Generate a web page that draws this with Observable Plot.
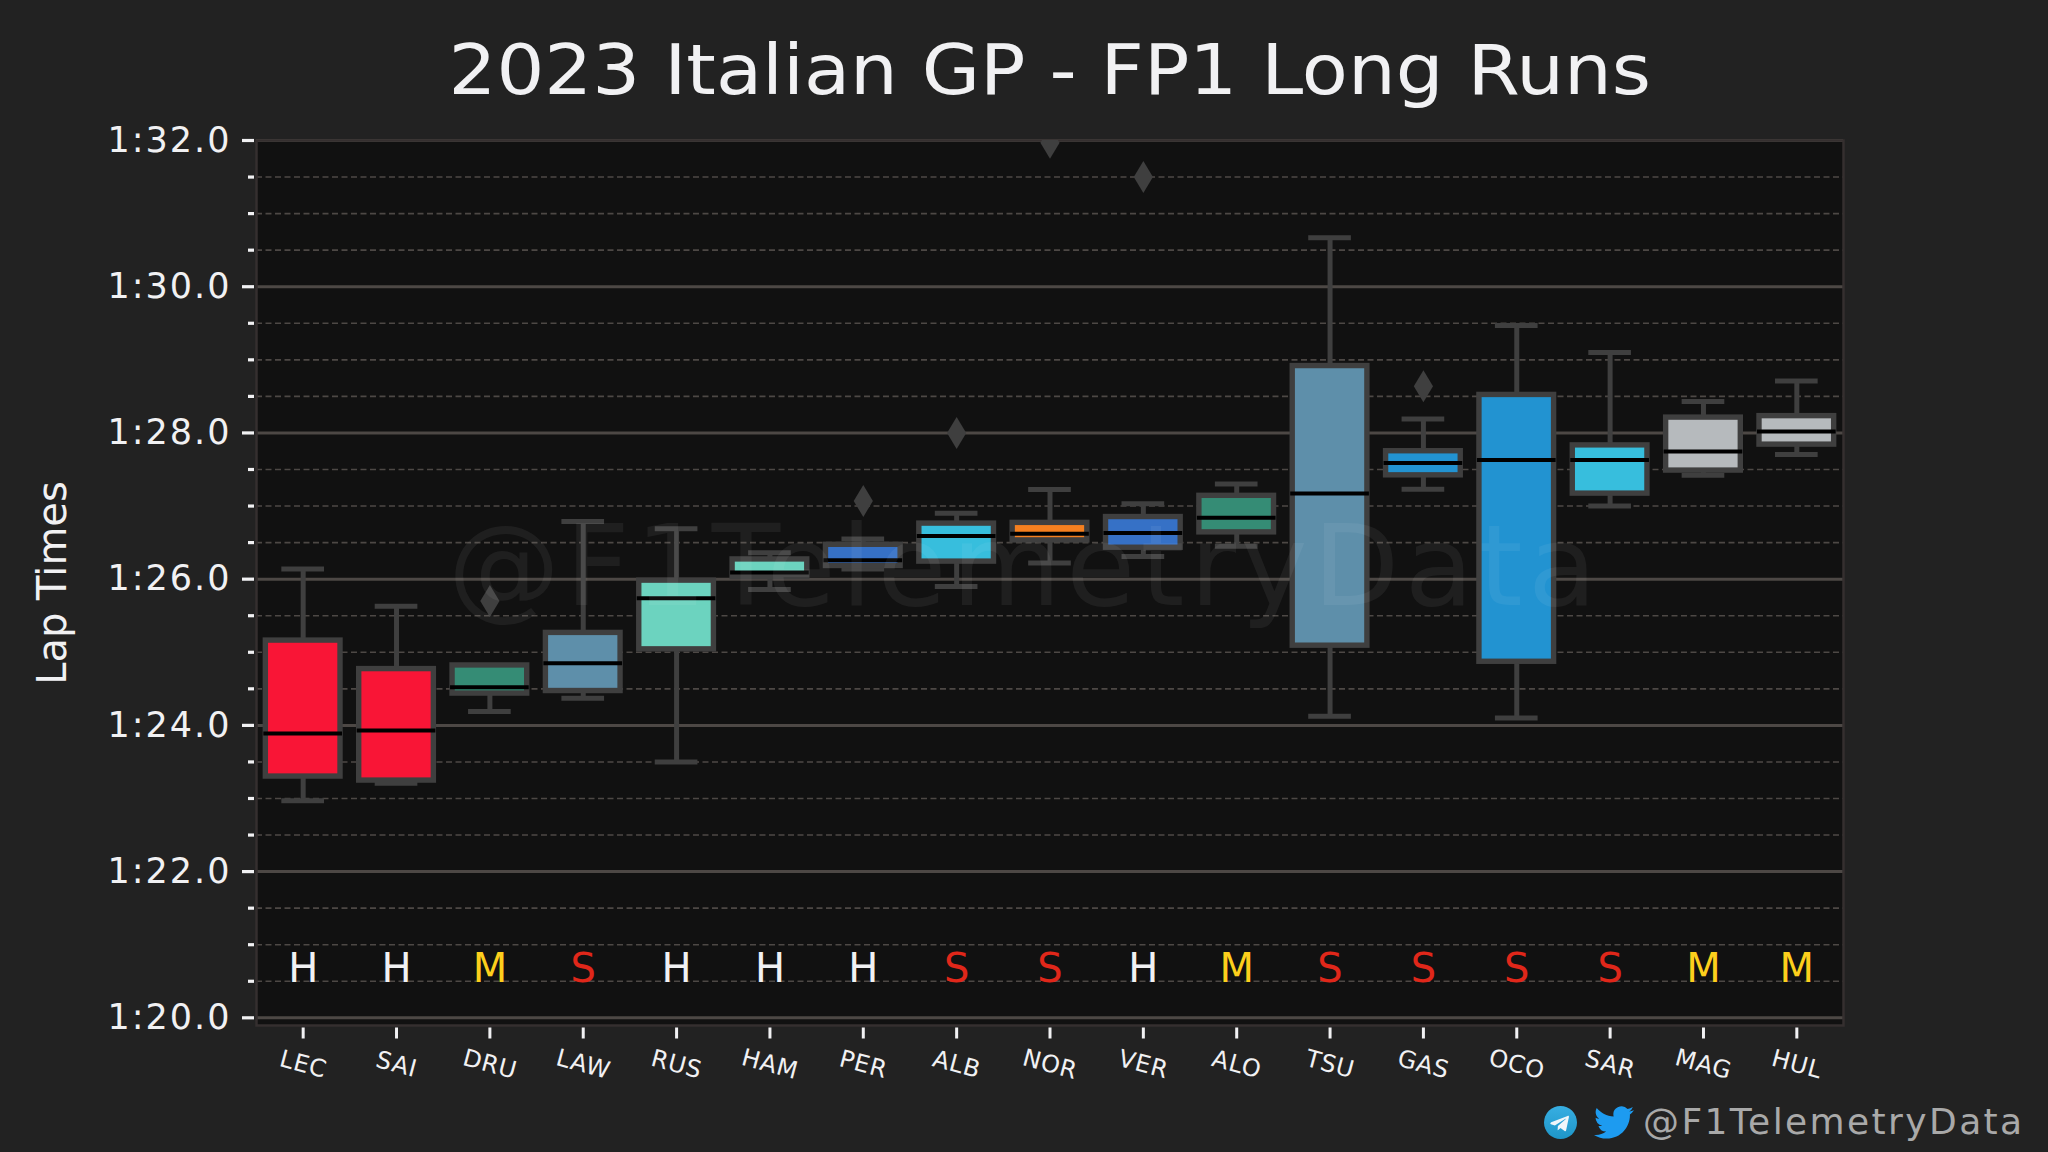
<!DOCTYPE html>
<html><head><meta charset="utf-8">
<script src="https://cdn.jsdelivr.net/npm/d3@7"></script>
<script src="https://cdn.jsdelivr.net/npm/@observablehq/plot@0.6"></script>
<style>
html,body{margin:0;padding:0;background:#222222;width:2048px;height:1152px;overflow:hidden;font-family:"DejaVu Sans",sans-serif;color:#f1f1f3}
#page{position:relative;width:2048px;height:1152px}
#title{height:120px;text-align:center;font-size:70px;line-height:70px;white-space:nowrap}
#title span{display:inline-block;position:relative;top:35px;left:25.5px;transform:scaleX(1.076)}
#chart svg{display:block}
#footer{position:absolute;left:0;top:0;width:2048px;height:1152px;pointer-events:none}
#handle{position:absolute;left:1643px;top:1098px;font-size:36px;line-height:48px;color:#a9a9a9;white-space:nowrap;letter-spacing:2.4px}
.ico{position:absolute;top:1106px}
</style></head>
<body><div id="page">
<div id="title"><span>2023 Italian GP - FP1 Long Runs</span></div>
<div id="chart"></div>
<div id="footer">
<svg class="ico" style="left:1544px" width="33" height="33" viewBox="0 0 24 24"><defs><linearGradient id="tg" x1="0" y1="0" x2="0" y2="1"><stop offset="0" stop-color="#37aee2"/><stop offset="1" stop-color="#1e96c8"/></linearGradient></defs><circle cx="12" cy="12" r="12" fill="url(#tg)"/><path fill="#f0f6fa" d="M5.2 11.9 17.2 7.2c.6-.2 1.1.1.9 1l-2 9.4c-.15.7-.55.85-1.1.55l-3-2.2-1.45 1.4c-.2.2-.35.3-.65.3l.2-3.05 5.6-5.05c.25-.2-.05-.35-.4-.15L7.9 14.1l-2.9-.9c-.6-.2-.6-.6.2-1.3z"/></svg>
<svg class="ico" style="left:1594px" width="40" height="33" viewBox="0 2 24 20" preserveAspectRatio="none"><path fill="#1d9bf0" d="M23.953 4.57a10 10 0 01-2.825.775 4.958 4.958 0 002.163-2.723c-.951.555-2.005.959-3.127 1.184a4.92 4.92 0 00-8.384 4.482C7.69 8.095 4.067 6.13 1.64 3.162a4.822 4.822 0 00-.666 2.475c0 1.71.87 3.213 2.188 4.096a4.904 4.904 0 01-2.228-.616v.06a4.923 4.923 0 003.946 4.827 4.996 4.996 0 01-2.212.085 4.936 4.936 0 004.604 3.417 9.867 9.867 0 01-6.102 2.105c-.39 0-.779-.023-1.17-.067a13.995 13.995 0 007.557 2.209c9.053 0 13.998-7.496 13.998-13.985 0-.21 0-.42-.015-.63A9.935 9.935 0 0024 4.59z"/></svg>
<div id="handle">@F1TelemetryData</div>
</div>
</div>
<script>
const drivers  = ["LEC","SAI","DRU","LAW","RUS","HAM","PER","ALB","NOR","VER","ALO","TSU","GAS","OCO","SAR","MAG","HUL"];
const compounds= ["H","H","M","S","H","H","H","S","S","H","M","S","S","S","S","M","M"];
const teamColors=["#F91536","#F91536","#358C75","#5E8FAA","#6CD3BF","#6CD3BF","#3671C6","#37BEDD","#F58020","#3671C6","#358C75","#5E8FAA","#2293D1","#2293D1","#37BEDD","#B6BABD","#B6BABD"];
const whiskerHigh=[86.14,85.63,84.82,86.79,86.69,86.36,86.55,86.90,87.225,87.03,87.30,90.67,88.19,89.47,89.10,88.43,88.71];
const q3         =[85.16,84.77,84.82,85.265,85.98,86.27,86.47,86.76,86.77,86.85,87.14,88.915,87.75,88.52,87.83,88.21,88.23];
const median     =[83.89,83.93,84.52,84.85,85.74,86.09,86.26,86.59,86.62,86.63,86.84,87.17,87.59,87.63,87.63,87.745,88.02];
const q1         =[83.30,83.245,84.435,84.47,85.04,86.03,86.18,86.24,86.53,86.43,86.64,85.09,87.42,84.87,87.17,87.485,87.84];
const whiskerLow =[82.97,83.21,84.19,84.37,83.50,85.86,86.14,85.90,86.22,86.31,86.45,84.125,87.23,84.10,87.00,87.42,87.705];
const outlierDrivers=["DRU","PER","ALB","NOR","VER","GAS"];
const outlierTimes  =[85.70,87.07,88.00,91.97,91.50,88.64];
const majorTicks=[80,82,84,86,88,90,92];
const minorTicks=[80.5,81,81.5,82.5,83,83.5,84.5,85,85.5,86.5,87,87.5,88.5,89,89.5,90.5,91,91.5];
const compoundColor={H:"#f1f1f3",M:"#fdcf1c",S:"#e0271a"};
const compoundLevel=80.66;
const watermark="@F1TelemetryData";

const rows=drivers.map((d,i)=>({driver:d,color:teamColors[i],hi:whiskerHigh[i],q3:q3[i],med:median[i],q1:q1[i],lo:whiskerLow[i],compound:compounds[i]}));
const outliers=outlierDrivers.map((d,i)=>({driver:d,t:outlierTimes[i]}));
const lapFormat=v=>`${Math.floor(v/60)}:${(v%60).toFixed(1).padStart(4,"0")}`;
const boxEdge="#3f3f3f", gridCol="#4d4845", ink="#f1f1f3";
const thinDiamond={draw(ctx,size){const r=Math.sqrt(size/Math.PI);ctx.moveTo(0,-r);ctx.lineTo(r*0.6,0);ctx.lineTo(0,r);ctx.lineTo(-r*0.6,0);ctx.closePath();}};

const chart=Plot.plot({
  width:2048,height:1032,marginTop:20,marginBottom:127,marginLeft:256,marginRight:205,
  style:{background:"transparent",fontFamily:"'DejaVu Sans',sans-serif",color:ink,overflow:"visible"},
  x:{type:"band",domain:drivers,paddingInner:0.2,paddingOuter:0.1,round:false,axis:null,label:null},
  y:{domain:[79.895,92],axis:null,label:null},
  marks:[
    Plot.frame({fill:"#111111",stroke:null}),
    Plot.gridY(minorTicks,{stroke:gridCol,strokeOpacity:1,strokeWidth:1.6,strokeDasharray:"6,3.5"}),
    Plot.gridY(majorTicks,{stroke:gridCol,strokeOpacity:1,strokeWidth:3}),
    Plot.frame({stroke:"#352f2f",strokeWidth:2.5,fill:null}),
    Plot.axisY(majorTicks,{anchor:"left",tickSize:12,tickPadding:11,dx:-2,fontSize:35,color:ink,strokeWidth:3.2,tickFormat:lapFormat,label:null}),
    Plot.axisY(minorTicks,{anchor:"left",tickSize:6,dx:-2,color:ink,strokeWidth:3.2,tickFormat:()=>"",label:null}),
    Plot.axisX(drivers,{anchor:"bottom",tickSize:11,dy:2.5,color:ink,strokeWidth:3,tickFormat:()=>"",label:null}),
    Plot.text(drivers,{x:d=>d,frameAnchor:"bottom",dy:39,rotate:15,fontSize:24,fill:ink,textAnchor:"middle",lineAnchor:"middle"}),
    Plot.text(["Lap Times"],{frameAnchor:"left",dx:-203,rotate:-90,fontSize:40,fill:ink,textAnchor:"middle",lineAnchor:"middle"}),
    Plot.ruleX(rows,{x:"driver",y1:"q3",y2:"hi",stroke:boxEdge,strokeWidth:5}),
    Plot.ruleX(rows,{x:"driver",y1:"q1",y2:"lo",stroke:boxEdge,strokeWidth:5}),
    Plot.tickY(rows,{x:"driver",y:"hi",stroke:boxEdge,strokeWidth:5,insetLeft:16,insetRight:16}),
    Plot.tickY(rows,{x:"driver",y:"lo",stroke:boxEdge,strokeWidth:5,insetLeft:16,insetRight:16}),
    Plot.barY(rows,{x:"driver",y1:"q1",y2:"q3",fill:"color",stroke:boxEdge,strokeWidth:5.4}),
    Plot.tickY(rows,{x:"driver",y:"med",stroke:"#000000",strokeWidth:4,strokeLinecap:"square"}),
    Plot.dot(outliers,{x:"driver",y:"t",symbol:thinDiamond,r:16,fill:boxEdge,stroke:null,clip:true}),
    Plot.text(rows,{x:"driver",y:()=>compoundLevel,text:"compound",fontSize:40,fill:d=>compoundColor[d.compound]}),
    Plot.text([watermark],{frameAnchor:"middle",dx:-25,dy:-14,fontSize:112,fill:"#ffffff",fillOpacity:0.06})
  ]
});
d3.select(chart).selectAll("text").each(function(){
  const t=this.textContent;
  const s=t===watermark?"5.4px":drivers.includes(t)?"0.7px":/^\d:\d\d\.\d$/.test(t)?"2px":null;
  if(s) this.style.letterSpacing=s;
});
document.getElementById("chart").append(chart);
</script>
</body></html>
